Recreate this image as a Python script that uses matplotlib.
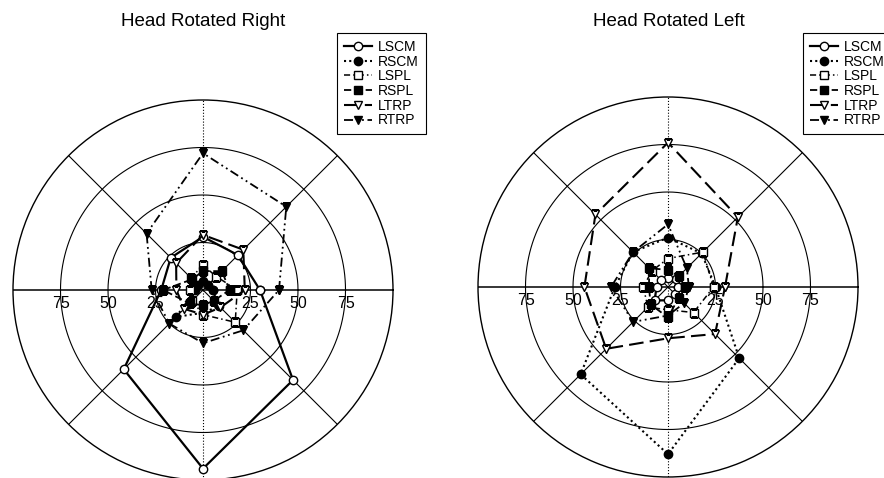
import numpy as np
import matplotlib.pyplot as plt
from matplotlib.transforms import ScaledTranslation

plt.rcParams['font.family'] = ['Liberation Sans', 'DejaVu Sans']

# directions in degrees, counter-clockwise from the right
angles = [0, 45, 90, 135, 180, 225, 270, 315]
series = ["LSCM", "RSCM", "LSPL", "RSPL", "LTRP", "RTRP"]
ring_labels = [25, 50, 75]

# Head Rotated Right
right_lscm = [30, 26, 28, 24, 22, 59, 94, 67]
right_rscm = [5, 4, 5, 4, 4, 20, 12, 12]
right_lspl = [18, 10, 13, 9, 7, 8, 13, 24]
right_rspl = [14, 14, 10, 8, 21, 10, 8, 8]
right_ltrp = [22, 30, 29, 20, 14, 14, 13, 13]
right_rtrp = [40, 62, 72, 42, 27, 25, 28, 30]

# Head Rotated Left
left_lscm = [5, 6, 5, 5, 6, 10, 7, 5]
left_rscm = [25, 25, 26, 26, 28, 65, 88, 53]
left_lspl = [24, 26, 15, 12, 13, 15, 12, 19]
left_rspl = [9, 8, 9, 14, 10, 13, 16, 8]
left_ltrp = [30, 52, 76, 54, 44, 46, 27, 35]
left_rtrp = [11, 14, 33, 26, 30, 26, 15, 12]

styles = {
    "LSCM": dict(ls="-", lw=1.6, marker="o", mfc="white"),
    "RSCM": dict(ls=(0, (1, 1.5)), lw=1.5, marker="o", mfc="black"),
    "LSPL": dict(ls=(0, (4, 2, 1, 2)), lw=1.1, marker="s", mfc="white"),
    "RSPL": dict(ls=(0, (4, 2)), lw=1.3, marker="s", mfc="black"),
    "LTRP": dict(ls=(0, (7, 3)), lw=1.5, marker="v", mfc="white"),
    "RTRP": dict(ls=(0, (5, 2, 1, 2, 1, 2)), lw=1.3, marker="v", mfc="black"),
}


def draw_panel(fig, ax, data):
    ax.set_ylim(0, 100)
    ax.grid(False)
    ax.set_xticks([])
    ax.set_yticks([])
    ax.spines["polar"].set_linewidth(1.0)

    t = np.linspace(0, 2 * np.pi, 361)
    for r in ring_labels:
        ax.plot(t, np.full_like(t, r), color="black", lw=0.8, zorder=1)
    for a in angles:
        th = np.deg2rad(a)
        if a in (90, 270):
            ax.plot([th, th], [0, 100], color="black", lw=0.8, ls=":", zorder=1)
        else:
            ax.plot([th, th], [0, 100], color="black",
                    lw=1.1 if a in (0, 180) else 0.8, zorder=1)

    th = np.deg2rad(angles + [angles[0]])
    handles = []
    for name, vals in zip(series, data):
        st = styles[name]
        (h,) = ax.plot(th, vals + [vals[0]], color="black", ls=st["ls"],
                       lw=st["lw"], marker=st["marker"], ms=6,
                       mfc=st["mfc"], mec="black", mew=1.0, label=name,
                       zorder=3)
        handles.append(h)

    shift = ax.transData + ScaledTranslation(0, -6 / 100, fig.dpi_scale_trans)
    for r in ring_labels:
        for a in (0, 180):
            ax.text(np.deg2rad(a), r, f"{r}", ha="center", va="top",
                    fontsize=11.5, zorder=4, transform=shift)
    return handles


fig = plt.figure(figsize=(8.84, 4.78), dpi=100)

ax1 = fig.add_axes([13 / 884, -2 / 478, 380 / 884, 380 / 478], projection="polar")
h1 = draw_panel(fig, ax1, [right_lscm, right_rscm, right_lspl, right_rspl,
                           right_ltrp, right_rtrp])

ax2 = fig.add_axes([478 / 884, 1 / 478, 380 / 884, 380 / 478], projection="polar")
h2 = draw_panel(fig, ax2, [left_lscm, left_rscm, left_lspl, left_rspl,
                           left_ltrp, left_rtrp])

fig.text(203 / 884, 1 - 21 / 478, "Head Rotated Right", ha="center",
         va="center", fontsize=13.5)
fig.text(669 / 884, 1 - 21 / 478, "Head Rotated Left", ha="center",
         va="center", fontsize=13.5)

for h, x in ((h1, 337), (h2, 803)):
    leg = fig.legend(handles=h, loc="upper left",
                     bbox_to_anchor=(x / 884, 1 - 33 / 478), fontsize=10,
                     frameon=True, fancybox=False, framealpha=1,
                     edgecolor="black", handlelength=2.0, handletextpad=0.45,
                     labelspacing=0.05, borderpad=0.5, borderaxespad=0)
    leg.get_frame().set_linewidth(0.8)

fig.savefig("out.png", dpi=100)
